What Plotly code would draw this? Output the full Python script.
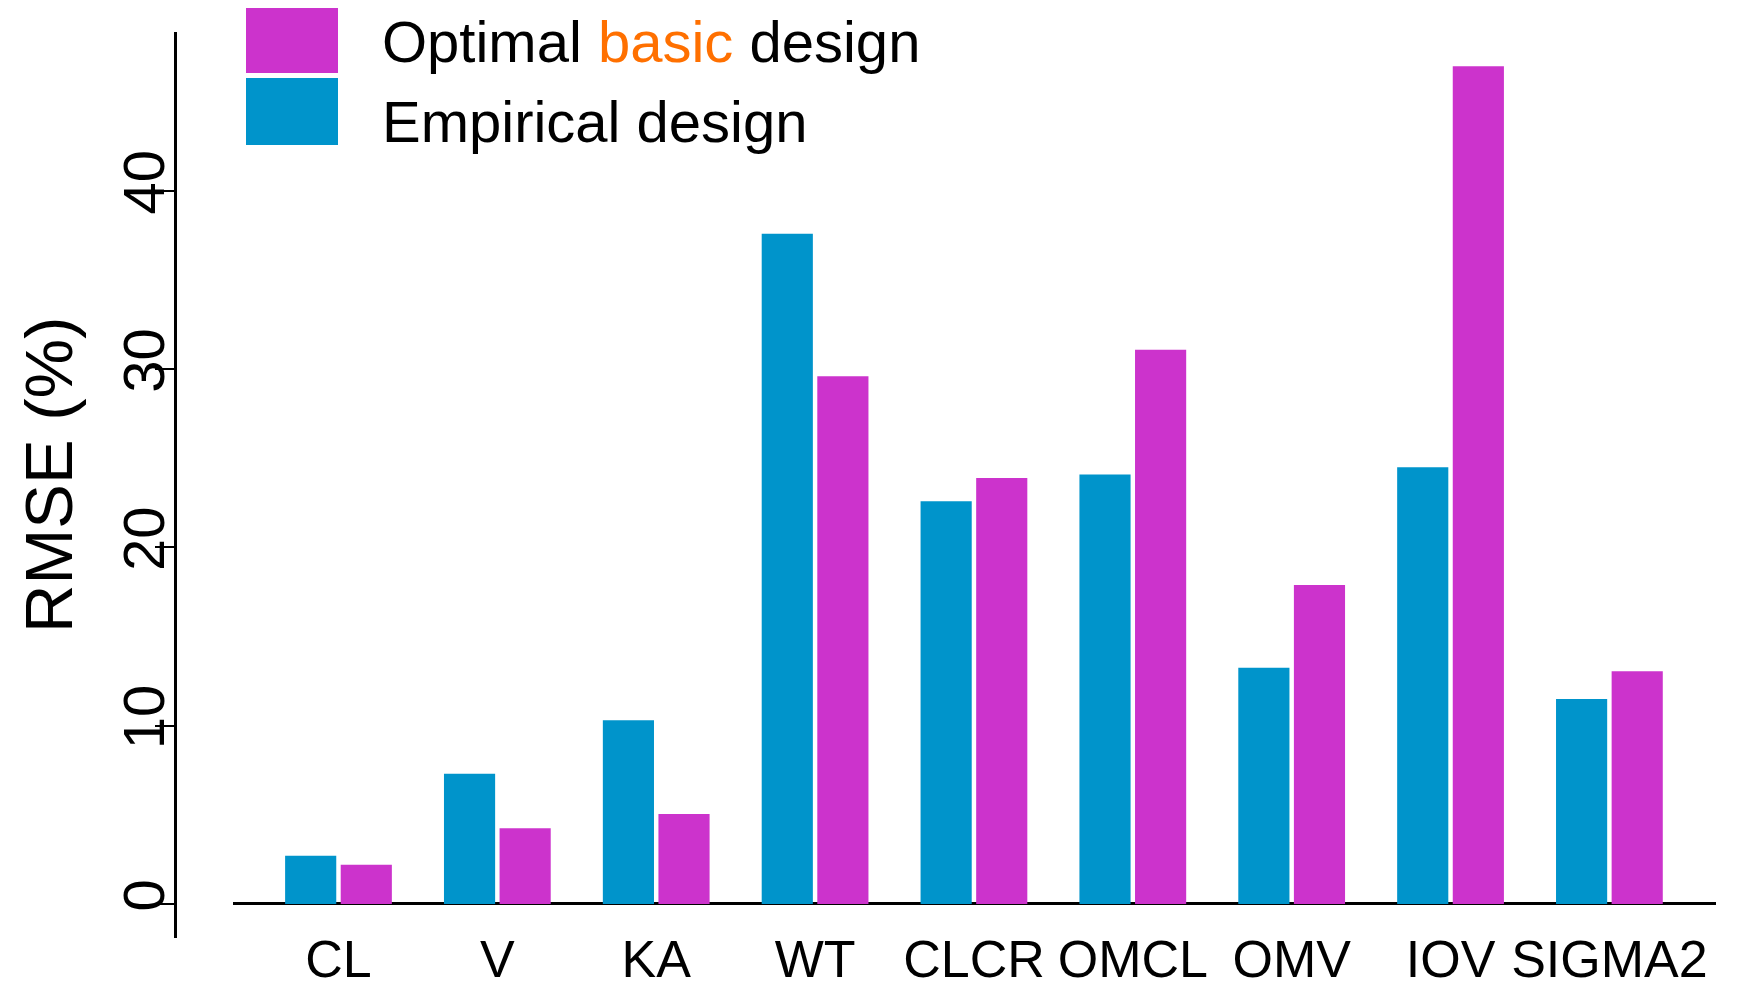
import plotly.graph_objects as go

categories = ["CL", "V", "KA", "WT", "CLCR", "OMCL", "OMV", "IOV", "SIGMA2"]
empirical = [2.7, 7.3, 10.3, 37.6, 22.6, 24.1, 13.25, 24.5, 11.5]
optimal = [2.2, 4.25, 5.05, 29.6, 23.9, 31.1, 17.9, 47.0, 13.05]
y_ticks = [0, 10, 20, 30, 40]

BLUE = "#0094CB"
PINK = "#CC33CC"
ORANGE = "#FF7000"
FONT = "Liberation Sans, Arial, sans-serif"

# the page body has an 8px margin, so the figure is drawn at (8, 8)
OFF = 8
W, H = 1742 - 2 * OFF, 989 - 2 * OFF

def px_x(p):
    return (p - OFF) / W

def px_y(p):
    return 1 - (p - OFF) / H

fig = go.Figure()
fig.add_trace(go.Bar(x=categories, y=empirical, name="Empirical design",
                     marker=dict(color=BLUE, line=dict(width=0))))
fig.add_trace(go.Bar(x=categories, y=optimal, name="Optimal basic design",
                     marker=dict(color=PINK, line=dict(width=0))))

fig.update_layout(
    width=W, height=H,
    margin=dict(l=0, r=0, t=0, b=0, autoexpand=False),
    plot_bgcolor="white", paper_bgcolor="white",
    barmode="group", bargap=0.30, bargroupgap=0.08,
    showlegend=False,
    font=dict(family=FONT, color="black"),
    xaxis=dict(
        domain=[px_x(233), px_x(1716)],
        range=[-0.664, 8.671],
        showline=False, showgrid=False, zeroline=False,
        ticks="", tickfont=dict(size=52, family=FONT, color="black"),
        ticklabelstandoff=-14,
        automargin=False,
    ),
    yaxis=dict(
        domain=[px_y(938), px_y(32)],
        range=[-1.91, 48.92],
        anchor="free", position=px_x(175),
        showline=True, linecolor="black", linewidth=2.5,
        showgrid=False,
        zeroline=True, zerolinecolor="black", zerolinewidth=3,
        ticks="outside", ticklen=19, tickwidth=2, tickcolor="black",
        tickvals=y_ticks, ticktext=[str(v) for v in y_ticks],
        tickangle=-90,
        tickfont=dict(size=58, family=FONT, color="black"),
        ticklabelstandoff=-32,
        automargin=False,
    ),
)

# y-axis title
fig.add_annotation(
    text="RMSE (%)", textangle=-90,
    xref="paper", yref="paper", x=px_x(48), y=px_y(475),
    xanchor="center", yanchor="middle", showarrow=False,
    font=dict(size=67, family=FONT, color="black"),
)

# manual legend
legend_items = [
    (PINK, "Optimal <span style='color:%s'>basic</span> design" % ORANGE, 7, 73, 42),
    (BLUE, "Empirical design", 78, 145, 121),
]
for color, label, top, bottom, mid in legend_items:
    fig.add_shape(type="rect", xref="paper", yref="paper",
                  x0=px_x(246), x1=px_x(338), y0=px_y(bottom), y1=px_y(top),
                  fillcolor=color, line=dict(width=0))
    fig.add_annotation(
        text=label, xref="paper", yref="paper", x=px_x(380), y=px_y(mid),
        xanchor="left", yanchor="middle", showarrow=False,
        font=dict(size=58, family=FONT, color="black"),
    )

fig.write_html("out.html")
